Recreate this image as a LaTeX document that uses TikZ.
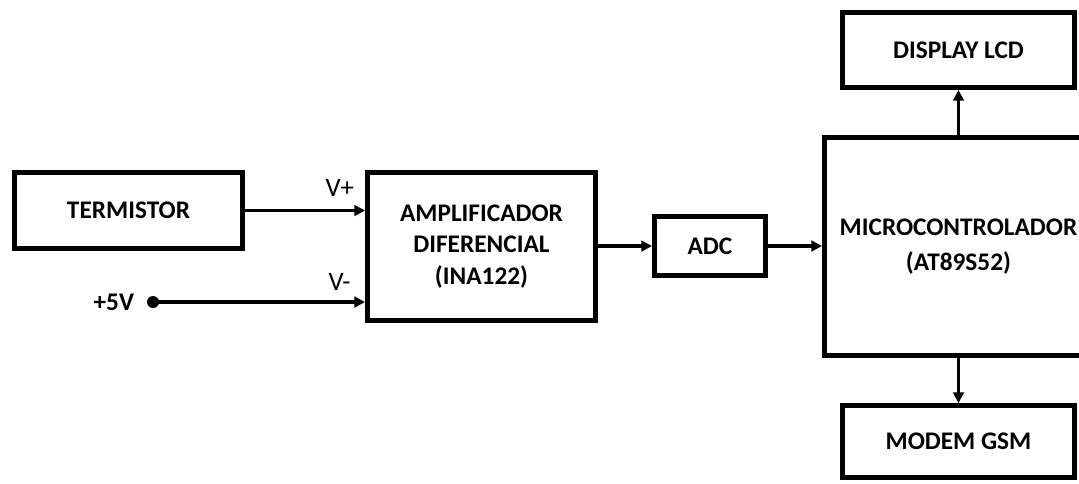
\documentclass[tikz,border=0pt]{standalone}
\usepackage{fontspec}
\setmainfont{Carlito}
\usetikzlibrary{positioning, arrows.meta}

\begin{document}
\begin{tikzpicture}[x=0.75pt, y=-0.75pt,
    block/.style={draw, line width=3.75pt, align=center, inner sep=0pt,
        font=\fontsize{19}{23.5}\selectfont\bfseries},
    link/.style={line width=2.6pt, -{Triangle[length=8pt, width=8pt]}},
    sign/.style={font=\fontsize{20}{22}\selectfont}]
    \useasboundingbox (0,0) rectangle (1079,483);

    % Input side
    \node[block, minimum width=171pt, minimum height=57pt] (termistor) at (128.5,210.5) {TERMISTOR};
    \node[block, minimum width=171pt, minimum height=111pt] (amplificador) at (481.5,246.5) {AMPLIFICADOR\\DIFERENCIAL\\(INA122)};
    \node[circle, fill, inner sep=0pt, minimum size=9pt] (vcc) at (153,302) {};
    \node[left=6pt of vcc, font=\fontsize{19}{21}\selectfont\bfseries] (vcc_label) {+5V};

    % Conversion and control
    \node[block, minimum width=83.25pt, minimum height=44.25pt] (adc) at (710,246) {ADC};
    \node[block, minimum width=201pt, minimum height=163.5pt] (micro) at (958.5,246.5) {MICROCONTROLADOR\\[2.5pt](AT89S52)};
    \node[block, minimum width=174pt, minimum height=56.25pt] (lcd) at (958.5,50) {DISPLAY LCD};
    \node[block, minimum width=174pt, minimum height=54pt] (gsm) at (958.5,441.5) {MODEM GSM};

    % Arrows
    \draw[link] (termistor.east) -- node[sign, pos=0.79, above=6pt] {V+} (termistor.east -| amplificador.west);
    \draw[link] (vcc.center) -- node[sign, pos=0.88, above=4pt] {V-} (vcc.center -| amplificador.west);
    \draw[link] (amplificador.east |- adc.west) -- (adc.west);
    \draw[link] (adc.east) -- (adc.east -| micro.west);
    \draw[link] (micro.north) -- (lcd.south);
    \draw[link] (micro.south) -- (gsm.north);
\end{tikzpicture}
\end{document}
